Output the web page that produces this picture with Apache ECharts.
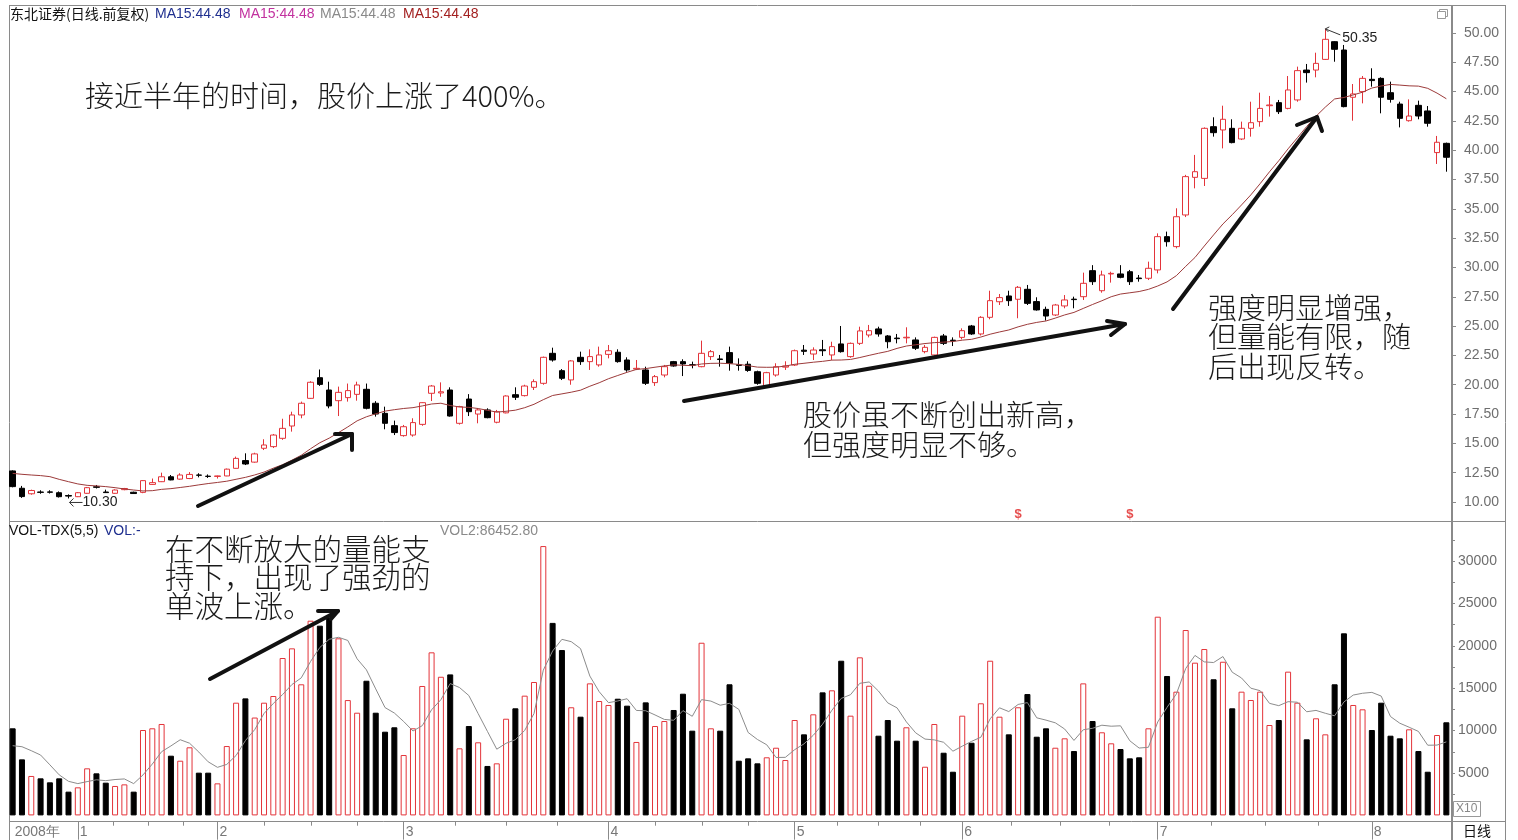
<!DOCTYPE html>
<html><head><meta charset="utf-8">
<script src="https://cdn.jsdelivr.net/npm/echarts@6/dist/echarts.min.js"></script>
<style>html,body{margin:0;padding:0;background:#fff}#c{width:1518px;height:840px}</style>
</head><body><div id="c"></div>
<script>
// ---- data (daily bars, late Dec 2008 – mid Aug 2009) ----
const opens = [12.65,11.17,10.70,10.85,10.86,10.79,10.55,10.45,10.74,11.30,10.85,10.74,11.05,10.83,10.82,11.50,11.73,12.15,11.95,12.00,
12.30,12.20,12.18,12.22,12.87,13.53,13.40,14.58,14.72,15.43,16.48,17.42,18.84,20.60,19.55,18.64,18.90,19.18,19.61,18.42,
17.56,16.51,15.66,15.71,16.62,19.27,19.30,19.55,16.71,18.78,17.50,17.85,16.80,17.60,19.15,19.07,19.78,20.12,22.68,21.20,
20.41,22.34,21.97,21.69,22.59,22.77,22.11,21.34,21.26,20.18,20.83,21.97,21.97,21.70,21.54,22.40,22.20,22.74,21.70,21.75,
21.11,19.90,20.83,21.50,21.68,22.95,22.62,22.98,22.54,23.48,22.40,23.53,24.24,24.76,24.16,23.98,24.00,23.82,22.82,22.54,
24.16,23.80,24.04,25.01,24.33,25.75,27.08,27.57,27.29,28.14,27.09,26.43,25.95,26.72,27.30,27.51,29.73,28.02,29.45,29.45,
29.64,29.10,29.08,29.79,32.63,31.78,34.48,37.69,37.60,42.01,41.73,41.87,40.96,41.87,42.44,43.80,44.06,43.57,44.29,46.84,
46.84,47.75,49.26,48.55,44.52,45.00,46.05,46.13,44.91,43.94,42.52,43.83,43.35,39.80,40.59];
const closes = [11.31,10.46,10.98,10.82,10.83,10.45,10.50,10.79,11.22,11.25,10.80,11.02,11.15,10.72,11.82,11.65,12.15,11.88,12.30,12.35,
12.28,12.18,12.22,12.80,13.72,13.24,14.10,14.86,15.71,16.28,17.42,18.42,20.21,20.03,18.19,19.35,19.50,19.98,17.99,17.50,
16.71,15.92,16.42,16.77,18.47,19.89,19.40,17.33,18.13,17.70,17.85,17.19,17.70,19.04,18.93,19.89,20.26,22.34,22.11,20.55,
22.03,21.97,22.40,22.54,22.90,21.97,21.26,21.40,20.12,20.69,21.54,21.60,21.77,21.68,22.68,22.82,22.15,21.83,21.65,21.22,
20.12,21.03,21.54,21.60,22.90,22.85,22.96,22.90,23.25,22.82,23.53,24.59,24.61,24.33,23.67,23.93,24.05,23.11,23.19,24.04,
23.53,23.75,24.61,24.33,25.75,27.17,27.43,27.17,28.31,26.94,26.38,25.86,26.80,27.23,27.26,28.65,28.79,29.36,29.50,29.16,
28.79,29.05,29.93,32.63,32.20,34.33,37.75,38.17,41.87,41.50,42.64,40.65,41.87,42.35,43.57,43.86,43.29,45.14,46.79,46.62,
47.41,49.46,48.61,43.72,44.80,46.13,45.94,44.52,44.34,42.72,42.92,42.92,42.30,40.68,39.40];
const lows = [11.25,10.35,10.62,10.70,10.72,10.38,10.30,10.42,10.70,11.15,10.78,10.70,11.00,10.70,10.75,11.45,11.70,11.85,11.90,11.95,
12.10,12.05,12.00,12.20,12.85,13.15,13.35,14.43,14.60,15.30,16.00,17.14,18.80,19.90,17.99,17.33,18.56,18.64,17.90,17.28,
16.20,15.71,15.57,15.57,16.50,18.61,18.97,17.28,16.60,17.33,16.71,17.14,16.71,17.56,18.70,19.00,19.55,20.00,21.97,20.40,
20.00,21.69,21.26,21.54,22.25,21.88,21.11,21.25,19.98,19.90,20.63,21.54,20.74,21.40,21.49,22.11,21.54,21.20,21.20,21.10,
20.00,19.80,20.69,21.26,21.60,22.54,22.11,22.45,22.11,22.74,22.30,23.39,24.04,24.10,23.11,23.53,23.53,22.96,22.68,22.45,
23.39,23.30,23.87,24.25,24.20,25.58,26.80,26.72,25.67,26.80,26.32,25.47,25.86,26.52,26.52,27.23,28.51,27.85,28.71,29.08,
28.51,28.79,28.93,29.50,31.78,31.63,34.30,36.75,36.95,41.16,40.16,40.59,40.87,41.16,42.01,42.87,43.09,43.49,44.14,45.77,
46.22,47.70,47.55,43.66,42.52,44.00,45.42,43.15,44.06,41.95,42.44,42.64,42.01,38.83,38.17];
const highs = [12.70,11.37,11.05,11.00,11.00,10.90,10.65,10.85,11.28,11.45,11.05,11.08,11.20,10.88,11.85,12.00,12.50,12.30,12.45,12.55,
12.45,12.35,12.25,12.85,13.87,14.15,14.20,15.35,15.80,17.10,17.70,18.56,20.30,21.30,20.26,19.84,20.10,20.26,20.10,18.60,
18.13,16.94,16.57,17.14,18.50,19.98,20.20,19.78,18.20,19.20,17.99,17.99,17.85,19.10,19.78,20.00,20.46,22.40,23.16,21.34,
22.10,22.82,23.02,23.25,23.39,23.02,22.34,22.11,21.54,20.83,21.69,22.03,22.17,21.97,23.76,22.96,22.54,23.25,22.25,22.00,
21.20,21.10,21.83,22.00,23.00,23.39,23.19,23.82,23.67,25.01,23.60,24.95,25.10,24.95,24.24,24.33,24.90,24.04,23.39,24.10,
24.33,24.04,24.81,25.10,25.85,28.02,27.74,28.02,28.42,28.51,27.46,26.66,26.89,27.65,27.51,29.56,30.20,29.73,29.64,30.20,
29.79,29.36,30.50,32.91,33.06,35.05,37.90,39.60,41.95,42.81,43.80,42.64,42.44,44.14,44.91,44.63,44.29,46.33,47.13,47.36,
48.32,50.35,49.30,48.98,45.65,46.33,46.99,46.22,45.85,44.14,44.34,44.23,43.77,41.22,40.65];
const volumes = [10270,6610,4650,4370,3900,4370,2800,3310,5550,4960,3860,3470,3660,2800,10070,10270,10780,7040,6450,8030,
5040,5040,3780,8180,13290,13800,11540,13290,14080,18560,19700,15460,22960,22370,23350,20880,13600,12110,15880,12110,
9870,10390,7120,10270,15260,19230,16350,16630,7910,10540,8620,5830,6140,11400,12630,14120,15730,31760,22700,19500,
12750,11640,15570,13490,13020,13760,12940,8660,13330,10540,11130,12430,14350,9990,20360,10270,9990,15460,6450,6730,
6140,6850,7980,6530,11250,9560,11920,14510,14750,18240,11760,18640,15290,9400,11250,8810,10390,8810,5740,10780,
7390,5150,11760,8570,13220,18240,11640,9560,12750,14310,9280,10270,7980,9090,7590,15570,11130,9800,8500,7830,
6730,6850,10270,23430,16440,14590,21860,18010,19620,16050,18120,12630,14590,13610,14590,10660,11250,16950,13290,8970,
11450,9560,15460,21470,13020,12510,10070,13290,9400,9090,10150,7590,5150,9480,10980];
// MA values for the first bars (their windows start before the shown data)
const ma15Lead = [12.44,12.36,12.30,12.25,12.16,11.93,11.73,11.54,11.42,11.37,11.31,11.22,11.11,11.02];
const volMaLead = [8220,8100,7630,7120];
// axis labels
const monthLabels = ['2008年','1','2','3','4','5','6','7','8'];
const monthStarts = [0,7,22,42,64,84,102,123,146];
const priceTicks = [10,12.5,15,17.5,20,22.5,25,27.5,30,32.5,35,37.5,40,42.5,45,47.5,50];
const volumeTicks = [5000,10000,15000,20000,25000,30000];
const volumeMinorTicks = [2500,7500,12500,17500,22500,27500,32500];
const extremeMarks = [[6,10.30,0],[141,50.35,1]];
const signalBars = [108,120];

// ---- derived ----
const N = closes.length;
const categories = closes.map((_, i) => String(i));
const candles = closes.map((c, i) => [opens[i], c, lows[i], highs[i]]);
const ma15 = closes.map((_, i) => {
  if (i < 14) return ma15Lead[i];
  let s = 0; for (let k = i - 14; k <= i; k++) s += closes[k]; return +(s / 15).toFixed(3);
});
const volMa = volumes.map((_, i) => {
  if (i < 4) return volMaLead[i];
  let s = 0; for (let k = i - 4; k <= i; k++) s += volumes[k]; return s / 5;
});
const RED = '#e3343a';
const volBars = volumes.map((v, i) => {
  const up = closes[i] > opens[i];
  return { value: v, itemStyle: { color: up ? '#fff' : '#000', borderColor: up ? RED : '#000', borderWidth: 1 } };
});
const quarterTicks = [];
for (let m = 1; m < monthStarts.length - 1; m++) {
  const a = monthStarts[m], b = monthStarts[m + 1];
  for (let q = 1; q < 4; q++) quarterTicks.push(a + (b - a) * q / 4);
}
const volAllTicks = volumeTicks.concat(volumeMinorTicks).sort((a, b) => a - b);

const chart = echarts.init(document.getElementById('c'), null, { renderer: 'canvas' });
const FRAME = '#8a8a8a';
const TXT = '"Noto Sans CJK SC", "Noto Sans", sans-serif';
const NUMF = '"Liberation Sans", Arial, sans-serif';
function hline(x1, x2, y, w) { return { type: 'line', shape: { x1, y1: y, x2, y2: y }, style: { stroke: FRAME, lineWidth: w || 1 }, silent: true }; }
function vline(x, y1, y2, w) { return { type: 'line', shape: { x1: x, y1, x2: x, y2 }, style: { stroke: FRAME, lineWidth: w || 1 }, silent: true }; }
function arrow(x1, y1, x2, y2, h1, h2) {
  return [
    { type: 'line', shape: { x1, y1, x2, y2 }, style: { stroke: '#111', lineWidth: 4, lineCap: 'round' }, z: 20 },
    { type: 'polyline', shape: { points: [h1, [x2, y2], h2] }, style: { stroke: '#111', lineWidth: 4, lineCap: 'round', lineJoin: 'round' }, z: 20 }
  ];
}
function note(x, y, text, size, lh) {
  return { type: 'text', left: x, top: y, z: 30, style: { text, font: '300 ' + size + 'px ' + TXT, fill: '#1a1a1a', lineHeight: lh } };
}
function label(x, y, text, color, size, font) {
  return { type: 'text', left: x, top: y, z: 30, style: { text, font: (size || 13) + 'px ' + (font || TXT), fill: color } };
}

const graphics = [
  hline(9, 1506, 5.5), vline(9.5, 5, 840), vline(1505.5, 5, 840),
  hline(9, 1506, 521.5), hline(9, 1506, 821.5), vline(1452, 5, 840, 2),
  // title row
  label(10, 7, '东北证券(日线.前复权)', '#111', 14),
  label(155, 7, 'MA15:44.48', '#1f2f8f', 14, NUMF),
  label(239, 7, 'MA15:44.48', '#c2319f', 14, NUMF),
  label(320, 7, 'MA15:44.48', '#8a8a8a', 14, NUMF),
  label(403, 7, 'MA15:44.48', '#a32020', 14, NUMF),
  // volume legend
  label(9, 524, 'VOL-TDX(5,5)', '#111', 14, NUMF),
  label(104, 524, 'VOL:-', '#1f2f8f', 14, NUMF),
  label(440, 524, 'VOL2:86452.80', '#8a8a8a', 14, NUMF),
  // restore icon
  { type: 'rect', shape: { x: 1437.5, y: 11.5, width: 8, height: 7 }, style: { fill: '#fff', stroke: '#999', lineWidth: 1 } },
  { type: 'polyline', shape: { points: [[1439.5, 11.5], [1439.5, 9.5], [1447.5, 9.5], [1447.5, 16.5], [1445.5, 16.5]] }, style: { stroke: '#999', fill: null, lineWidth: 1 } },
  // X10 box and period label
  { type: 'rect', shape: { x: 1453.5, y: 801.5, width: 27, height: 15 }, style: { fill: '#fff', stroke: '#999', lineWidth: 1 } },
  label(1456, 803, 'X10', '#888', 12, NUMF),
  label(1463, 824, '日线', '#111', 14),
  // annotations
  note(85, 81, '接近半年的时间，股价上涨了400%。', 29, 30),
  note(803, 400, '股价虽不断创出新高，\n但强度明显不够。', 29, 30),
  note(1208, 293, '强度明显增强，\n但量能有限，随\n后出现反转。', 29, 29.5),
  note(165, 534, '在不断放大的量能支\n持下，出现了强劲的\n单波上涨。', 29.5, 28.5),
  ...arrow(198, 506, 352, 434, [335, 434], [352, 450]),
  ...arrow(684, 401, 1125, 324, [1107, 321], [1111, 335]),
  ...arrow(1173, 309, 1317, 117, [1297, 125], [1322, 131]),
  ...arrow(210, 679, 338, 611, [318, 611], [331, 619])
];

const option = {
  animation: false,
  backgroundColor: '#fff',
  grid: [
    { left: 8, right: 67, top: 3.69, height: 527.6 },
    { left: 8, right: 67, top: 518.6, height: 296.8 },
    { left: 8, right: 67, top: 815.4, height: 6.3 }
  ],
  xAxis: [
    { type: 'category', gridIndex: 0, data: categories, boundaryGap: true, show: false },
    { type: 'category', gridIndex: 1, data: categories, boundaryGap: true, show: false },
    { type: 'value', gridIndex: 2, min: -0.5, max: N - 0.5, position: 'bottom',
      axisLine: { show: false }, splitLine: { show: false },
      axisTick: { show: true, length: 18, customValues: monthStarts.slice(1), lineStyle: { color: FRAME } },
      axisLabel: { show: true, customValues: monthStarts, margin: 3, align: 'left', padding: [0, 0, 0, 2],
        color: '#777', fontSize: 14, fontFamily: NUMF,
        formatter: v => { const k = monthStarts.indexOf(Math.round(v)); return k >= 0 ? monthLabels[k] : ''; } } },
    { type: 'value', gridIndex: 2, min: -0.5, max: N - 0.5, position: 'top', show: false }
  ],
  yAxis: [
    { type: 'value', gridIndex: 0, position: 'right', min: 7.5, max: 52.5,
      axisLine: { show: false }, splitLine: { show: false },
      axisTick: { show: true, length: 5, customValues: priceTicks, lineStyle: { color: FRAME } },
      axisLabel: { customValues: priceTicks, margin: 13, color: '#6e6e6e', fontSize: 14, fontFamily: NUMF, formatter: v => v.toFixed(2) } },
    { type: 'value', gridIndex: 1, position: 'right', min: 0, max: 35000,
      axisLine: { show: false }, splitLine: { show: false },
      axisTick: { show: true, length: 4, customValues: volAllTicks, lineStyle: { color: FRAME } },
      axisLabel: { customValues: volumeTicks, margin: 7, color: '#6e6e6e', fontSize: 14, fontFamily: NUMF, formatter: v => String(v) } },
    { type: 'value', gridIndex: 2, show: false }
  ],
  series: [
    { type: 'candlestick', xAxisIndex: 0, yAxisIndex: 0, data: candles, barWidth: 6,
      itemStyle: { color: '#fff', color0: '#000', borderColor: RED, borderColor0: '#000', borderWidth: 1 } },
    { type: 'line', xAxisIndex: 0, yAxisIndex: 0, data: ma15, showSymbol: false, smooth: false,
      lineStyle: { color: '#9c3a3a', width: 1 }, z: 5 },
    { type: 'custom', xAxisIndex: 0, yAxisIndex: 0, data: extremeMarks, z: 10,
      renderItem: (params, api) => {
        const p = api.coord([api.value(0), api.value(1)]);
        const isHigh = api.value(2) === 1;
        const txt = api.value(1).toFixed(2);
        if (isHigh) {
          return { type: 'group', children: [
            { type: 'line', shape: { x1: p[0], y1: p[1], x2: p[0] + 15, y2: p[1] + 6 }, style: { stroke: '#333', lineWidth: 1 } },
            { type: 'polyline', shape: { points: [[p[0] + 4, p[1] - 2], [p[0], p[1]], [p[0] + 3, p[1] + 3]] }, style: { stroke: '#333', fill: null, lineWidth: 1 } },
            { type: 'text', style: { x: p[0] + 17, y: p[1] + 9, text: txt, font: '14px ' + NUMF, fill: '#222', verticalAlign: 'middle' } }
          ] };
        }
        return { type: 'group', children: [
          { type: 'line', shape: { x1: p[0] + 1, y1: p[1] + 4, x2: p[0] + 14, y2: p[1] + 4 }, style: { stroke: '#333', lineWidth: 1 } },
          { type: 'polyline', shape: { points: [[p[0] + 5, p[1]], [p[0] + 1, p[1] + 4], [p[0] + 5, p[1] + 8]] }, style: { stroke: '#333', fill: null, lineWidth: 1 } },
          { type: 'text', style: { x: p[0] + 14, y: p[1] + 4, text: txt, font: '14px ' + NUMF, fill: '#222', verticalAlign: 'middle' } }
        ] };
      } },
    { type: 'scatter', xAxisIndex: 0, yAxisIndex: 0, data: signalBars.map(i => [i, 8.9]), symbolSize: 0,
      label: { show: true, formatter: '$', color: '#e02020', fontSize: 13, fontWeight: 'bold', position: 'inside' } },
    { type: 'bar', xAxisIndex: 1, yAxisIndex: 1, data: volBars, barWidth: 6 },
    { type: 'line', xAxisIndex: 1, yAxisIndex: 1, data: volMa, showSymbol: false,
      lineStyle: { color: '#8c8c8c', width: 1 }, z: 5 },
    // quarter-month ticks on the date strip, placed through the date scale
    { type: 'custom', xAxisIndex: 2, yAxisIndex: 2, data: quarterTicks.map(v => [v]), z: 10,
      renderItem: (params, api) => {
        const x = api.coord([api.value(0), 0])[0];
        const y = params.coordSys.y + params.coordSys.height;
        return { type: 'line', shape: { x1: Math.round(x) + 0.5, y1: y, x2: Math.round(x) + 0.5, y2: y + 4 }, style: { stroke: FRAME, lineWidth: 1 } };
      } }
  ],
  graphic: graphics
};
chart.setOption(option);
</script>
</body></html>
